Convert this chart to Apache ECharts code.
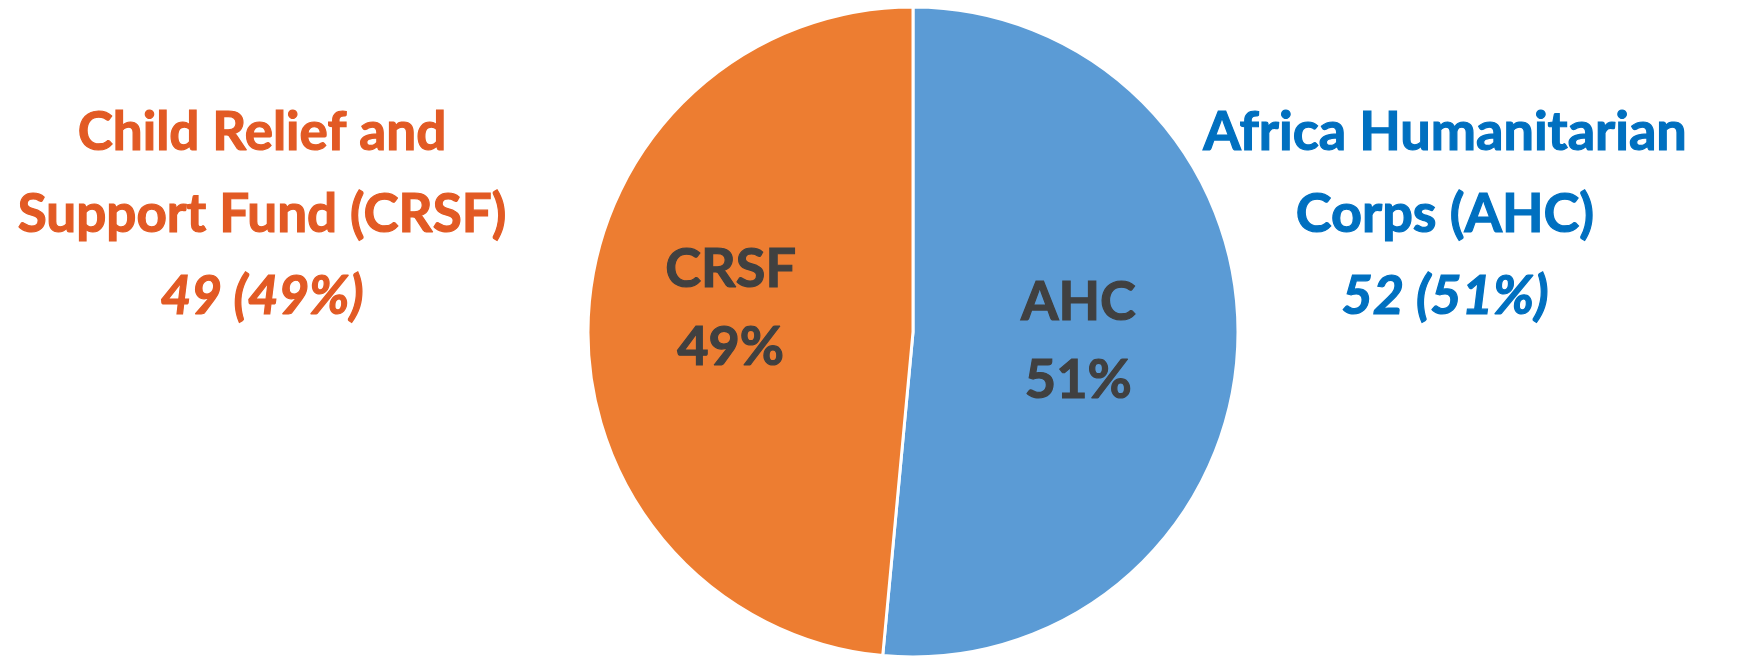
<!DOCTYPE html>
<html><head><meta charset="utf-8">
<script src="https://cdn.jsdelivr.net/npm/echarts@6/dist/echarts.min.js"></script>
<style>html,body{margin:0;padding:0;background:#fff}#c{width:1745px;height:656px}</style>
</head><body><div id="c"></div>
<script>
const shortNames = ['AHC', 'CRSF'];
const fullNames = [['Africa Humanitarian', 'Corps (AHC)'], ['Child Relief and', 'Support Fund (CRSF)']];
const values = [52, 49];
const sliceColors = ['#5B9BD5', '#ED7D31'];
const textColors = ['#0070C0', '#E25A24'];

const total = values.reduce((a, b) => a + b, 0);
const pct = v => Math.round(v / total * 100) + '%';
const FONT = 'Lato';

const chart = echarts.init(document.getElementById('c'));
const outerText = (i, cx, size) => ({
  type: 'text', x: cx, y: 92, z: 100,
  style: {
    text: `{n|${fullNames[i][0]}}\n{n|${fullNames[i][1]}}\n{v|${values[i]} (${pct(values[i])})}`,
    align: 'center',
    verticalAlign: 'top',
    rich: {
      n: { fontFamily: FONT, fontWeight: 'bold', fontSize: size, lineHeight: 82, fill: textColors[i], stroke: textColors[i], lineWidth: 1.2, align: 'center' },
      v: { fontFamily: FONT, fontWeight: 'bold', fontStyle: 'italic', fontSize: size, lineHeight: 82, fill: textColors[i], stroke: textColors[i], lineWidth: 1.2, align: 'center' }
    }
  }
});
chart.setOption({
  animation: false,
  graphic: [outerText(1, 262, 53), outerText(0, 1445, 54)],
  series: [{
    type: 'pie',
    center: [913, 332],
    radius: [0, 325],
    startAngle: 90,
    clockwise: true,
    label: {
      position: 'inside',
      formatter: p => p.name + '\n' + pct(p.value),
      color: '#404040', textBorderColor: '#404040', textBorderWidth: 1.2,
      fontFamily: FONT, fontWeight: 'bold', fontSize: 54, lineHeight: 78
    },
    labelLine: { show: false },
    itemStyle: { borderColor: '#fff', borderWidth: 3 },
    data: values.map((v, i) => ({
      name: shortNames[i], value: v,
      itemStyle: { color: sliceColors[i] },
      label: { offset: i === 1 ? [-17, -16] : [0, 2] }
    }))
  }]
});
</script></body></html>
